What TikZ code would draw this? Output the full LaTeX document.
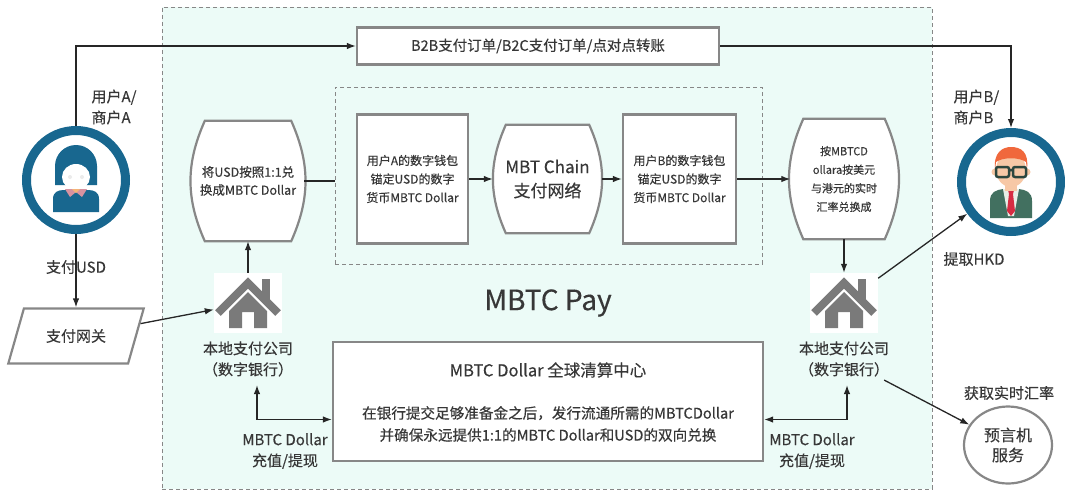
\documentclass[tikz,border=0pt]{standalone}
\usepackage{fontspec}
\setmainfont{Noto Sans CJK SC}[UprightFeatures={FakeBold=0.35}]
\usepackage{tikz}
\usetikzlibrary{arrows.meta,backgrounds,calc,positioning,shapes.geometric}

\definecolor{zonecyan}{RGB}{236,251,247}
\definecolor{ringblue}{RGB}{24,103,143}
\definecolor{boxgray}{RGB}{135,135,135}
\definecolor{housegray}{RGB}{122,122,122}
\definecolor{txtgray}{RGB}{55,55,55}
\definecolor{hairorange}{RGB}{240,104,60}
\definecolor{skin}{RGB}{247,200,166}
\definecolor{suitgreen}{RGB}{66,112,96}
\definecolor{shirt}{RGB}{232,238,230}
\definecolor{tiered}{RGB}{214,44,66}
\definecolor{glassdark}{RGB}{44,70,62}
\definecolor{collarpink}{RGB}{214,146,160}
\definecolor{neckskin}{RGB}{244,180,120}

\tikzset{
  house/.pic={
    \fill[housegray] (-19,-25) -- (-19,-8) -- (0,11) -- (19,-8) -- (19,-25) -- (6,-25) -- (6,-9) -- (-6,-9) -- (-6,-25) -- cycle;
    \fill[housegray] (14,0) rectangle (22,24);
    \draw[housegray,line width=8pt,line join=miter] (-30,-10) -- (0,20) -- (30,-10);
  },
  womanicon/.pic={
    \fill[ringblue] (-21,-5) -- (-21,14) arc[start angle=180,end angle=0,radius=21] -- (21,-5) -- cycle;
    \fill[white] (0,3) ellipse[x radius=14,y radius=13];
    \fill[ringblue] (-15,10) .. controls (-8,20) and (6,20) .. (15,9) -- (15,22) -- (-15,22) -- cycle;
    \fill[black!8] (-6,3) circle[radius=2] (6,3) circle[radius=2];
    \fill[ringblue] (-23,-32) -- (-23,-19) .. controls (-23,-12) and (-18,-10) .. (-12,-10) -- (12,-10) .. controls (18,-10) and (23,-12) .. (23,-19) -- (23,-32) -- cycle;
    \fill[collarpink] (-11,-9) -- (11,-9) -- (6,-17) -- (0,-12) -- (-6,-17) -- cycle;
    \fill[neckskin] (-4,-9) -- (4,-9) -- (0,-13) -- cycle;
  },
  manicon/.pic={
    \fill[suitgreen] (-21,-36) -- (-21,-19) .. controls (-21,-10) and (-15,-8) .. (-8,-7) -- (8,-7) .. controls (15,-8) and (21,-10) .. (21,-19) -- (21,-36) -- cycle;
    \fill[shirt] (-8,-7) -- (8,-7) -- (3,-34) -- (-3,-34) -- cycle;
    \fill[tiered] (-3,-8) -- (3,-8) -- (2,-12) -- (4,-29) -- (0,-34) -- (-4,-29) -- (-2,-12) -- cycle;
    \fill[skin] (-6,0) rectangle (6,-9);
    \fill[skin] (0,12) ellipse[x radius=15,y radius=17];
    \fill[skin] (-16,10) circle[radius=3.5] (16,10) circle[radius=3.5];
    \fill[hairorange] (-16,12) .. controls (-18,30) and (-8,35) .. (0,35) .. controls (10,35) and (18,30) .. (16,13) -- (15,20) .. controls (8,25) and (-8,25) .. (-15,20) -- cycle;
    \draw[glassdark,line width=2.5pt,rounded corners=2pt] (-15,15) rectangle (-2,5) (2,15) rectangle (15,5) (-2,12) -- (2,12);
  }
}

\begin{document}
\begin{tikzpicture}[x=1pt,y=1pt,
  every node/.style={text=txtgray},
  box/.style={draw=boxgray,line width=2.2pt,fill=white,inner sep=0pt},
  barrel/.style={inner sep=0pt,align=center},
  outline/.style={draw=boxgray,line width=2.2pt,fill=white},
  zone/.style={draw=boxgray,dash pattern=on 4pt off 3pt,line width=0.8pt},
  person/.style={circle,draw=ringblue,line width=9pt,fill=white,minimum size=99pt,inner sep=0pt},
  bank/.style={fill=white,minimum width=68pt,minimum height=60pt,inner sep=0pt},
  plain/.style={line width=1.3pt,draw=black!85},
  flow/.style={plain,-{Latex[length=9pt,width=6.5pt]}},
  twoway/.style={plain,{Latex[length=9pt,width=6.5pt]}-{Latex[length=9pt,width=6.5pt]}},
  lbl/.style={font=\fontsize{15}{21}\selectfont,align=center},
  walletfont/.style={font=\fontsize{12}{18.5}\selectfont,align=center},
]
\useasboundingbox (0,0) rectangle (1065,-493);

\begin{scope}[on background layer]
  \node[zone,fill=zonecyan,minimum width=770,minimum height=482] (payzone) at (547,-248) {};
\end{scope}
\node[zone,minimum width=427,minimum height=177] (chainzone) at (548.5,-175.5) {};
\node[font=\fontsize{28}{30}\selectfont] (paytitle) at (548,-303) {MBTC Pay};

\node[box,minimum width=362,minimum height=37,font=\fontsize{14.5}{16}\selectfont] (orders) at (538,-46) {B2B支付订单/B2C支付订单/点对点转账};

\node[person] (userA) at (76,-180) {};
\pic at (userA) {womanicon};
\node[person] (userB) at (1011,-182) {};
\pic at (userB) {manicon};
\node[lbl,align=left,anchor=west] (userAname) at (88,-107) {用户A/\\商户A};
\node[lbl,align=left,anchor=west] (userBname) at (950,-107) {用户B/\\商户B};

\node[lbl] (payusd) at (76,-267) {支付USD};
\node[lbl,trapezium,trapezium left angle=64,trapezium right angle=116,trapezium stretches=true,
  draw=boxgray,line width=2.2pt,fill=white,minimum width=136,minimum height=55] (gate) at (76,-336) {支付网关};

\node[bank] (bankL) at (248,-303) {};
\pic at (bankL) {house};
\node[lbl] (bankLname) at (248,-359) {本地支付公司\\（数字银行）};
\node[bank] (bankR) at (844,-303) {};
\pic at (bankR) {house};
\node[lbl] (bankRname) at (844,-359) {本地支付公司\\（数字银行）};

\node[barrel,minimum width=112,minimum height=120,font=\fontsize{12.5}{18}\selectfont] (conv) at (248,-181) {将USD按照1:1兑\\换成MBTC Dollar};
\node[box,walletfont,minimum width=111,minimum height=129] (walletA) at (412.5,-179) {用户A的数字钱包\\锚定USD的数字\\货币MBTC Dollar};
\node[barrel,minimum width=109,minimum height=108,font=\fontsize{17}{24}\selectfont] (chain) at (547.5,-179) {MBT Chain\\支付网络};
\node[box,walletfont,minimum width=113,minimum height=129] (walletB) at (679.5,-179) {用户B的数字钱包\\锚定USD的数字\\货币MBTC Dollar};
\node[barrel,minimum width=107,minimum height=120,font=\fontsize{11}{18.6}\selectfont] (rate) at (844,-179) {按MBTCD\\ollara按美元\\与港元的实时\\汇率兑换成};

\begin{scope}[on background layer]
  \foreach \n in {conv,chain,rate}
    \draw[outline] ([xshift=13pt]\n.north west) -- ([xshift=-13pt]\n.north east)
      to[bend left=24] ([xshift=-13pt]\n.south east) -- ([xshift=13pt]\n.south west)
      to[bend left=24] ([xshift=13pt]\n.north west) -- cycle;
\end{scope}

\node[box,minimum width=430,minimum height=119] (clear) at (548,-401.5) {};
\node[font=\fontsize{16.5}{20}\selectfont] (clearhead) at (548,-370) {MBTC Dollar 全球清算中心};
\node[font=\fontsize{14.6}{22}\selectfont,align=center] (clearbody) at (548,-424) {在银行提交足够准备金之后，发行流通所需的MBTCDollar\\并确保永远提供1:1的MBTC Dollar和USD的双向兑换};

\node[ellipse,draw=boxgray,line width=2.2pt,fill=white,minimum width=88,minimum height=77,
  font=\fontsize{16}{20}\selectfont,align=center] (oracle) at (1008,-445) {预言机\\服务};

\node[lbl] (topupL) at (285,-451) {MBTC Dollar\\充值/提现};
\node[lbl] (topupR) at (812,-451) {MBTC Dollar\\充值/提现};
\node[lbl] (hkd) at (974,-259) {提取HKD};
\node[lbl] (ratefeed) at (1009,-393) {获取实时汇率};

\draw[flow] (userA) |- (orders);
\draw[flow] (orders) -| (userB);
\draw[flow] (userA) -- (gate);
\draw[flow] (gate) -- (bankL);
\draw[flow] (bankL) -- (conv);
\draw[plain] (conv) -- (conv -| chainzone.west);
\draw[flow] (walletA) -- (chain);
\draw[flow] (chain) -- (walletB);
\draw[flow] (walletB) -- (rate);
\draw[flow] (rate) -- (bankR);
\draw[flow] (bankR) -- (userB);
\draw[flow] (bankRname) -- (oracle);
\draw[twoway] ([xshift=9pt,yshift=-5pt]bankLname.south) |- ($(clear.west)+(0,-18)$);
\draw[twoway] ([xshift=3pt,yshift=-5pt]bankRname.south) |- ($(clear.east)+(0,-18)$);
\end{tikzpicture}
\end{document}
